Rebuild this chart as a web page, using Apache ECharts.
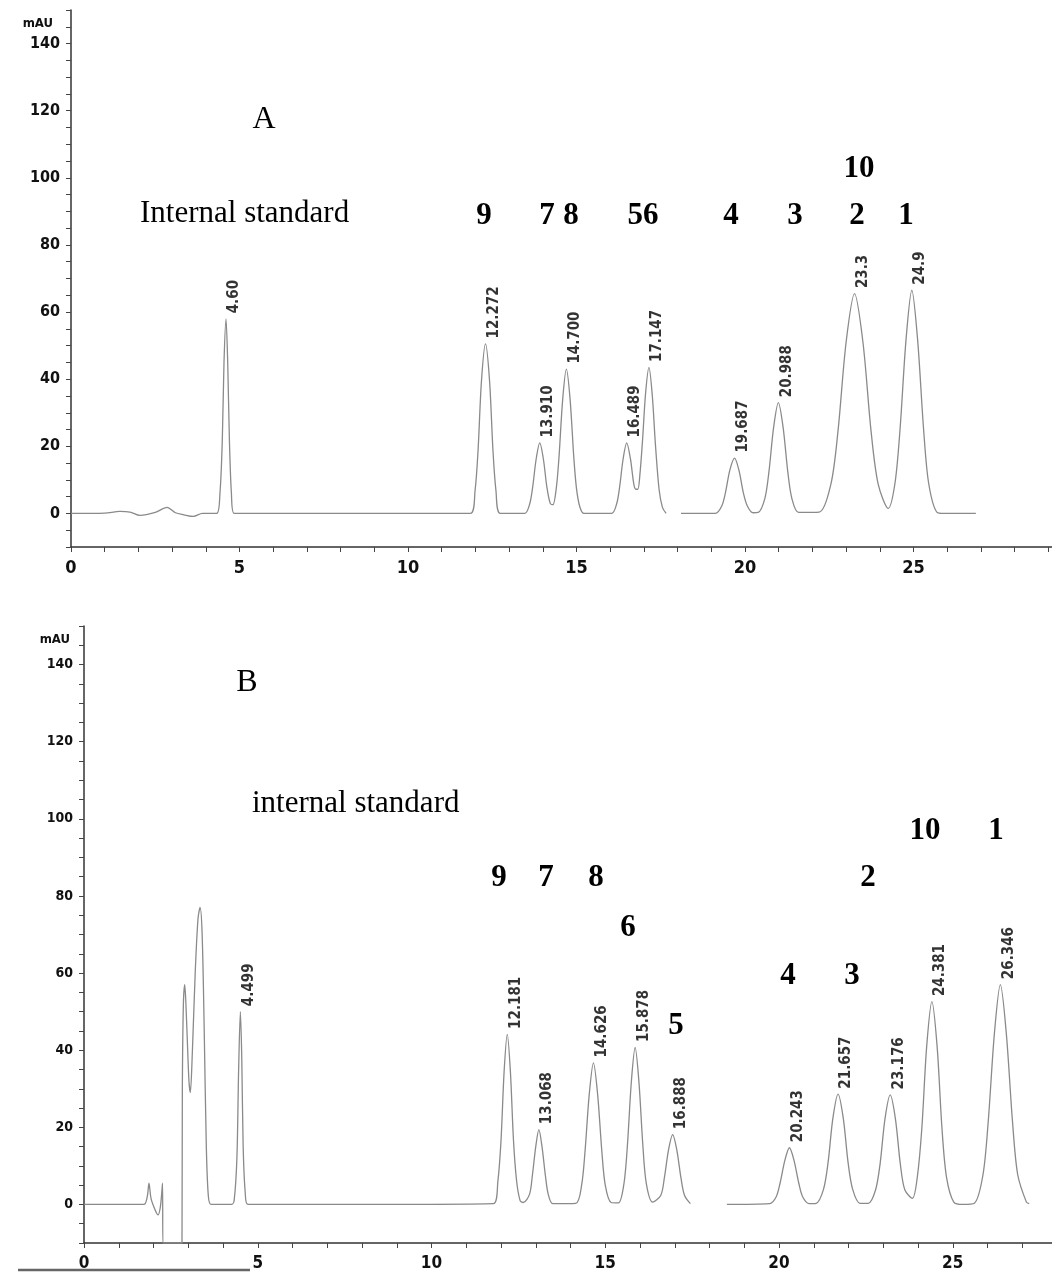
<!DOCTYPE html>
<html lang="en">
<head>
<meta charset="UTF-8"/>
<title>HPLC chromatograms A and B</title>
<script src="https://cdn.jsdelivr.net/npm/echarts@6/dist/echarts.min.js"></script>
<style>html,body{margin:0;padding:0;background:#fff;}</style>
</head>
<body>
<div id="main" style="width:1052px;height:1275px;"></div>
<script type="text/javascript">
// chromatogram A: [time (min), absorbance (mAU)]
var traceA = [
    [0, 0], [1.0, 0.1], [1.45, 0.6], [1.75, 0.4], [2.05, -0.6], [2.5, 0.3], [2.85, 1.8], [3.1, 0.2], [3.35, -0.4], [3.63, -0.9], [3.9, 0], [4.32, 0],
    [4.42, 6], [4.49, 22], [4.54, 45], [4.6, 58], [4.65, 45], [4.7, 22], [4.76, 6], [4.84, 0],
    [8.0, 0], [11.85, 0],
    [11.99, 6.8], [12.08, 19], [12.18, 39.5], [12.3, 50.5], [12.42, 39.5], [12.52, 19], [12.61, 6.8], [12.74, 0],
    [13.46, 0], [13.61, 2.8], [13.7, 7.9], [13.8, 16], [13.91, 21], [14.02, 16], [14.12, 7.9], [14.22, 3], [14.3, 2.6],
    [14.4, 7.5], [14.48, 16.7], [14.59, 34], [14.7, 43], [14.81, 34], [14.92, 16.7], [15.0, 7.4], [15.1, 1.9], [15.22, 0],
    [16.04, 0], [16.19, 2.8], [16.28, 7.9], [16.38, 16], [16.49, 21], [16.6, 16.3], [16.7, 8.8], [16.76, 7.2], [16.82, 7.2],
    [16.88, 11.4], [16.96, 21.9], [17.05, 35.8], [17.15, 43.5], [17.25, 35], [17.34, 20.8], [17.45, 7.2], [17.55, 1.8], [17.66, 0],
    [17.8, null], [18.1, 0],
    [19.12, 0], [19.31, 2.2], [19.42, 6.2], [19.55, 12.9], [19.69, 16.5], [19.82, 12.9], [19.95, 6.2], [20.07, 2.2], [20.24, 0.2],
    [20.39, 0.3], [20.59, 4.5], [20.71, 12.4], [20.85, 25.7], [20.99, 33], [21.13, 25.7], [21.27, 12.4], [21.39, 4.5], [21.59, 0.3],
    [22.2, 0.4], [22.55, 8.8], [22.76, 24.6], [23.0, 51], [23.25, 65.5], [23.5, 51], [23.74, 24.6], [23.95, 8.8], [24.25, 1.5],
    [24.45, 9], [24.6, 25], [24.78, 52], [24.95, 66.5], [25.12, 52], [25.3, 25], [25.45, 9], [25.7, 0.3], [25.9, 0], [26.85, 0]
];
var peakRtA = [4.6, 12.3, 13.91, 14.7, 16.49, 17.15, 19.69, 20.99, 23.25, 24.95];
var peakHtA = [58, 50.5, 21, 43, 21, 43.5, 16.5, 33, 65.5, 66.5];
var peakTagA = ['4.60', '12.272', '13.910', '14.700', '16.489', '17.147', '19.687', '20.988', '23.3', '24.9'];

// chromatogram B
var traceB = [
    [0, 0], [1.72, 0], [1.82, 2], [1.87, 5.5], [1.93, 1.5], [2.05, -1.5], [2.13, -2.7], [2.2, -0.5], [2.26, 5.5], [2.27, -10],
    [2.82, -10], [2.83, 30], [2.86, 52], [2.9, 57], [2.95, 48], [3.02, 32], [3.06, 29], [3.12, 40], [3.2, 60], [3.28, 74], [3.34, 77],
    [3.4, 70], [3.46, 45], [3.52, 15], [3.58, 2], [3.66, 0], [4.25, 0],
    [4.32, 1], [4.4, 12], [4.45, 35], [4.5, 50], [4.54, 38], [4.58, 15], [4.64, 3], [4.72, 0],
    [8.0, 0], [11.78, 0.2],
    [11.91, 6], [12.0, 16.5], [12.09, 34.5], [12.18, 44.1], [12.27, 34.5], [12.36, 16.5], [12.45, 6], [12.55, 1], [12.64, 0.5],
    [12.82, 2.6], [12.9, 7.3], [13.0, 15], [13.09, 19.4], [13.18, 15], [13.28, 7.3], [13.36, 2.6], [13.49, 0.2], [14.15, 0.3],
    [14.32, 5], [14.42, 14], [14.54, 28.6], [14.66, 36.7], [14.78, 28.6], [14.9, 14], [15.0, 5], [15.17, 0.5], [15.38, 0.4],
    [15.54, 5.5], [15.64, 15.6], [15.75, 31.7], [15.86, 40.7], [15.97, 31.7], [16.08, 15.6], [16.18, 5.5], [16.36, 0.6],
    [16.6, 2.4], [16.7, 6.8], [16.82, 14.1], [16.94, 18.1], [17.06, 14.1], [17.18, 6.8], [17.28, 2.4], [17.45, 0.2],
    [17.5, null], [18.5, 0], [19.73, 0.2],
    [19.92, 2], [20.03, 5.5], [20.17, 11.5], [20.3, 14.7], [20.43, 11.5], [20.57, 5.5], [20.68, 2], [20.87, 0.2],
    [21.07, 0.3], [21.28, 3.9], [21.41, 10.7], [21.55, 22.3], [21.7, 28.6], [21.85, 22.3], [21.99, 10.7], [22.12, 3.9], [22.33, 0.3],
    [22.57, 0.3], [22.78, 3.8], [22.91, 10.6], [23.05, 22.2], [23.2, 28.4], [23.35, 22.2], [23.49, 10.6], [23.62, 3.8], [23.84, 1.6],
    [23.98, 7.1], [24.11, 19.7], [24.25, 41], [24.4, 52.6], [24.55, 41], [24.69, 19.7], [24.82, 7.1], [25.03, 0.6], [25.3, 0],
    [25.62, 0.3], [25.87, 7.7], [26.02, 21.4], [26.2, 44.5], [26.37, 57], [26.54, 44.5], [26.72, 21.4], [26.87, 7.7], [27.12, 0.6], [27.2, 0.2]
];
var peakRtB = [4.5, 12.18, 13.09, 14.66, 15.86, 16.94, 20.3, 21.7, 23.2, 24.4, 26.37];
var peakHtB = [50, 44.1, 19.4, 36.7, 40.7, 18.1, 14.7, 28.6, 28.4, 52.6, 57];
var peakTagB = ['4.499', '12.181', '13.068', '14.626', '15.878', '16.888', '20.243', '21.657', '23.176', '24.381', '26.346'];

var serif = '"Liberation Serif", "Times New Roman", serif';
var sans = '"DejaVu Sans Condensed", "Liberation Sans", Arial, sans-serif';

function xAxisFor(grid, size) {
    return {
        type: 'value', gridIndex: grid, min: 0, max: 30, interval: 1,
        axisLine: { onZero: false, lineStyle: { color: '#333', width: 1.5 } },
        axisTick: { length: 5, lineStyle: { color: '#444' } },
        splitLine: { show: false },
        axisLabel: {
            margin: 12, color: '#111', fontFamily: sans, fontWeight: 'bold', fontSize: size,
            formatter: function (v) { return v % 5 === 0 ? String(v) : ''; }
        }
    };
}

function yAxisFor(grid, size, pad) {
    return {
        type: 'value', gridIndex: grid, min: -10, max: 150, interval: 5,
        name: 'mAU', nameLocation: 'end', nameGap: -14,
        nameTextStyle: { align: 'right', verticalAlign: 'middle', padding: [0, pad, 0, 0],
            fontFamily: sans, fontWeight: 'bold', fontSize: 13, color: '#111' },
        axisLine: { onZero: false, lineStyle: { color: '#333', width: 1.5 } },
        axisTick: { length: 5, lineStyle: { color: '#444' } },
        splitLine: { show: false },
        axisLabel: {
            margin: 11, color: '#111', fontFamily: sans, fontWeight: 'bold', fontSize: size,
            formatter: function (v) { return (v >= 0 && v <= 140 && v % 20 === 0) ? String(v) : ''; }
        }
    };
}

function traceSeries(idx, data) {
    return {
        type: 'line', xAxisIndex: idx, yAxisIndex: idx, data: data,
        showSymbol: false, smooth: 0.3, connectNulls: false,
        lineStyle: { color: '#8a8a8a', width: 1.3 }, silent: true
    };
}

function tagSeries(idx, rt, ht, tags) {
    return {
        type: 'scatter', xAxisIndex: idx, yAxisIndex: idx, symbolSize: 1, silent: true,
        itemStyle: { color: 'rgba(0,0,0,0)' },
        data: rt.map(function (x, i) { return [x, ht[i], tags[i]]; }),
        label: {
            show: true, rotate: 90, position: [9, -5], align: 'left', verticalAlign: 'middle',
            fontFamily: sans, fontWeight: 'bold', fontSize: 15, color: '#000',
            formatter: function (p) { return p.value[2]; }
        }
    };
}

function txt(x, y, s, size, bold) {
    return {
        type: 'text', x: x, y: y, silent: true,
        style: { text: s, fill: '#000', font: (bold ? 'bold ' : '') + size + 'px ' + serif,
            align: 'center', verticalAlign: 'middle', textAlign: 'center', textVerticalAlign: 'middle' }
    };
}

var chart = echarts.init(document.getElementById('main'));
chart.setOption({
    animation: false,
    backgroundColor: '#fff',
    grid: [
        { left: 71, top: 10, width: 1011, height: 537, outerBoundsMode: 'none', containLabel: false },
        { left: 84, top: 626, width: 1042.5, height: 617, outerBoundsMode: 'none', containLabel: false }
    ],
    xAxis: [xAxisFor(0, 18), xAxisFor(1, 17)],
    yAxis: [yAxisFor(0, 16, 18), yAxisFor(1, 14, 14)],
    series: [
        traceSeries(0, traceA), tagSeries(0, peakRtA, peakHtA, peakTagA),
        traceSeries(1, traceB), tagSeries(1, peakRtB, peakHtB, peakTagB)
    ],
    graphic: [
        // panel A annotations
        txt(264, 120, 'A', 32, false),
        { type: 'text', x: 140, y: 214, silent: true,
          style: { text: 'Internal standard', fill: '#000', font: '31px ' + serif, align: 'left', verticalAlign: 'middle', textAlign: 'left', textVerticalAlign: 'middle' } },
        txt(484, 216, '9', 31, true), txt(547, 216, '7', 31, true), txt(571, 216, '8', 31, true),
        txt(643, 216, '56', 31, true), txt(731, 216, '4', 31, true), txt(795, 216, '3', 31, true),
        txt(857, 216, '2', 31, true), txt(906, 216, '1', 31, true), txt(859, 169, '10', 31, true),
        // panel B annotations
        txt(247, 683, 'B', 32, false),
        { type: 'text', x: 252, y: 804, silent: true,
          style: { text: 'internal standard', fill: '#000', font: '31px ' + serif, align: 'left', verticalAlign: 'middle', textAlign: 'left', textVerticalAlign: 'middle' } },
        txt(499, 878, '9', 31, true), txt(546, 878, '7', 31, true), txt(596, 878, '8', 31, true),
        txt(628, 928, '6', 31, true), txt(676, 1026, '5', 31, true), txt(788, 976, '4', 31, true),
        txt(852, 976, '3', 31, true), txt(868, 878, '2', 31, true), txt(925, 831, '10', 31, true),
        txt(996, 831, '1', 31, true),
        // scan edge under panel B
        { type: 'line', silent: true, shape: { x1: 18, y1: 1270, x2: 250, y2: 1270 }, style: { stroke: '#666', lineWidth: 2.5 } }
    ]
});
</script>
</body>
</html>
